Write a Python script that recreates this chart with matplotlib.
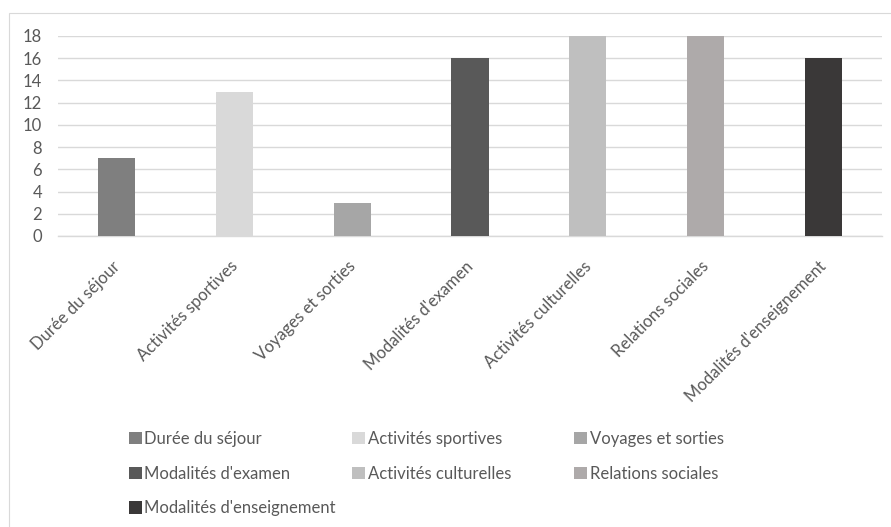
import matplotlib
matplotlib.use("Agg")
import matplotlib.pyplot as plt
import matplotlib.transforms as mtransforms
from matplotlib.patches import Patch, Rectangle

# data
categories = ["Durée du séjour", "Activités sportives", "Voyages et sorties",
              "Modalités d'examen", "Activités culturelles", "Relations sociales",
              "Modalités d'enseignement"]
values = [7, 13, 3, 16, 18, 18, 16]
colors = ["#7f7f7f", "#d9d9d9", "#a6a6a6", "#595959", "#bfbfbf", "#aeaaaa", "#3a3838"]
yticks = [0, 2, 4, 6, 8, 10, 12, 14, 16, 18]

plt.rcParams['font.family'] = ['Lato', 'DejaVu Sans']
textcol = "#595959"
gridcol = "#d9d9d9"
fsize = 12

fig = plt.figure(figsize=(8.91, 5.27), dpi=100)
fig.patches.append(Rectangle((9 / 891, -0.1), 1.2, 1 - 13 / 527 + 0.1,
                             transform=fig.transFigure, fill=False,
                             edgecolor=gridcol, linewidth=0.8))

ax = fig.add_axes([58 / 891, 1 - 236 / 527, 824 / 891, 200 / 527])
x = range(len(categories))
ax.bar(x, values, width=0.315, color=colors, zorder=3)

ax.set_xlim(-0.5, len(categories) - 0.5)
ax.set_ylim(0, 18)
ax.set_yticks(yticks)
ax.yaxis.grid(True, color=gridcol, linewidth=1.0, zorder=0)
for side in ["top", "right", "left"]:
    ax.spines[side].set_visible(False)
ax.spines["bottom"].set_color(gridcol)
ax.spines["bottom"].set_linewidth(1.0)
ax.tick_params(axis="both", length=0, labelsize=fsize, labelcolor=textcol)
ax.tick_params(axis="y", pad=11.5)
ax.set_xticks(list(x))
ax.set_xticklabels(categories, rotation=45, ha="right", va="center",
                   rotation_mode="anchor")
ax.tick_params(axis="x", pad=20)
shift = mtransforms.ScaledTranslation(1 / 100, 0, fig.dpi_scale_trans)
for lab in ax.get_xticklabels():
    lab.set_transform(lab.get_transform() + shift)

handles = [Patch(facecolor=c, label=l) for c, l in zip(colors, categories)]
# Excel lays legend out row by row with equal column widths
columns = [[0, 3, 6], [1, 4], [2, 5]]
col_x = [129, 352, 574]
for cx, idx in zip(col_x, columns):
    leg = fig.legend([handles[i] for i in idx], [categories[i] for i in idx],
                     loc="upper left", bbox_to_anchor=(cx / 891, 1 - 431 / 527),
                     frameon=False, fontsize=fsize, handlelength=0.78,
                     handleheight=0.78, handletextpad=0.15, labelspacing=1.12,
                     borderpad=0, borderaxespad=0)
    for t in leg.get_texts():
        t.set_color(textcol)

fig.savefig("out.png", dpi=100)
